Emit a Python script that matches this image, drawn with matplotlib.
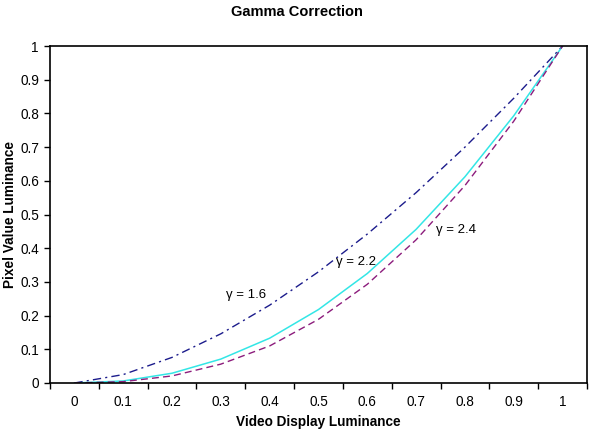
import matplotlib
matplotlib.use("Agg")
import matplotlib.pyplot as plt

categories = ["0", "0.1", "0.2", "0.3", "0.4", "0.5", "0.6", "0.7", "0.8", "0.9", "1"]
gamma_16 = [0, 0.025, 0.076, 0.146, 0.231, 0.330, 0.442, 0.565, 0.700, 0.845, 1.0]
gamma_22 = [0, 0.006, 0.029, 0.071, 0.133, 0.218, 0.325, 0.456, 0.612, 0.793, 1.0]
gamma_24 = [0, 0.004, 0.021, 0.056, 0.110, 0.189, 0.293, 0.425, 0.586, 0.777, 1.0]
y_ticks = [0, 0.1, 0.2, 0.3, 0.4, 0.5, 0.6, 0.7, 0.8, 0.9, 1]

plt.rcParams['font.family'] = ['Liberation Sans', 'DejaVu Sans']

fig = plt.figure(figsize=(5.93, 4.34), dpi=100)
ax = fig.add_axes([50/593, 1-383/434, 537/593, 337/434])

x = list(range(len(categories)))
ax.plot(x, gamma_16, color='#1c1c8c', lw=1.0, linestyle=(0, (6, 3, 1.5, 3)))
ax.plot(x, gamma_22, color='#33e6e6', lw=1.1, linestyle='-')
ax.plot(x, gamma_24, color='#8c1c7c', lw=1.0, linestyle=(0, (5, 3)))

ax.set_xlim(-0.5, 10.5)
ax.set_ylim(0, 1)
ax.set_xticks([i + 0.5 for i in range(-1, 11)])
ax.set_xticklabels([])
ax.set_xticks(x, minor=True)
ax.set_xticklabels(categories, minor=True, fontsize=9.8)
ax.tick_params(axis='x', which='minor', length=0, pad=9)
ax.tick_params(axis='x', which='major', length=4, width=1, direction='out')
ax.set_yticks(y_ticks)
ax.set_yticklabels([f"{v:g}" for v in y_ticks], fontsize=9.8)
ax.tick_params(axis='y', length=4, width=1, direction='out', pad=4)
for s in ax.spines.values():
    s.set_linewidth(1.2)
    s.set_color('black')

ax.text(3.1, 0.26, "γ = 1.6", fontsize=9.5, ha='left', va='center')
ax.text(5.35, 0.36, "γ = 2.2", fontsize=9.5, ha='left', va='center')
ax.text(7.4, 0.455, "γ = 2.4", fontsize=9.5, ha='left', va='center')

ax.set_xlabel("Video Display Luminance", fontsize=9.8, fontweight='bold', labelpad=4)
ax.set_ylabel("Pixel Value Luminance", fontsize=9.8, fontweight='bold', labelpad=2)
fig.text(0.5, 1-12/434, "Gamma Correction", fontsize=10.5, fontweight='bold', ha='center', va='center')

fig.savefig("out.png", dpi=100)
